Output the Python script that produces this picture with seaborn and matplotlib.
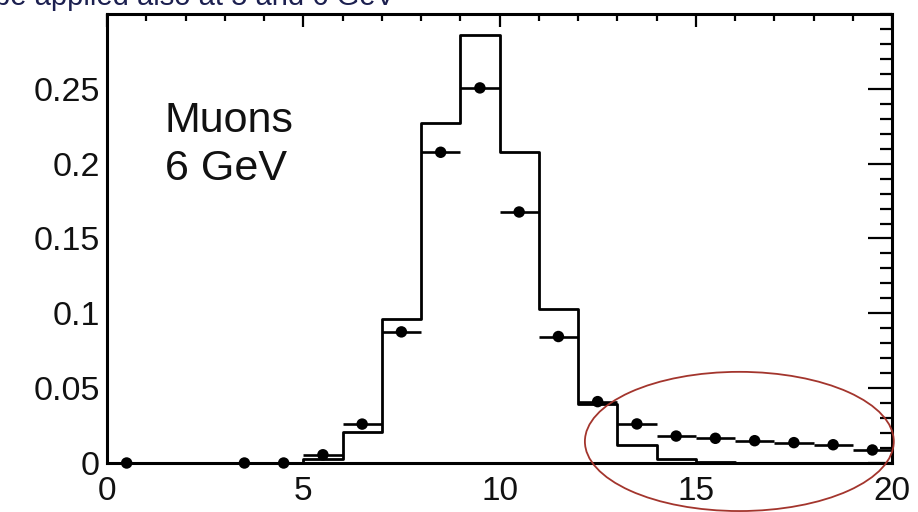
import matplotlib
matplotlib.use("Agg")
import matplotlib.pyplot as plt
from matplotlib.patches import Ellipse
from matplotlib.ticker import FixedLocator, FuncFormatter
import numpy as np
import seaborn as sns

# Reconstructed energy histogram (simulation) and measured points
bin_edges = list(range(0, 21))
sim_heights = [0, 0, 0, 0, 0, 0.003, 0.021, 0.096, 0.227, 0.286,
               0.2076, 0.1028, 0.0395, 0.012, 0.0025, 0.0009, 0, 0, 0, 0]
data_x = [0.5, 3.5, 4.5, 5.5, 6.5, 7.5, 8.5, 9.5, 10.5, 11.5, 12.5,
          13.5, 14.5, 15.5, 16.5, 17.5, 18.5, 19.5]
data_y = [0, 0, 0, 0.0055, 0.026, 0.0876, 0.2076, 0.2506, 0.1677, 0.0845,
          0.041, 0.0261, 0.018, 0.0165, 0.0149, 0.0136, 0.0122, 0.0087]
x_major = [0, 5, 10, 15, 20]
y_major = [0, 0.05, 0.1, 0.15, 0.2, 0.25]
label_lines = ["Muons", "6 GeV"]
header = "be applied also at 5 and 6 GeV"

sns.set_theme(style="white")
plt.rcParams["font.family"] = ["Liberation Sans", "DejaVu Sans"]

fig = plt.figure(figsize=(9.18, 5.12), dpi=100)
ax = fig.add_axes([0.1166, 0.0957, 0.8551, 0.8779])

bin_centers = [(a + b) / 2 for a, b in zip(bin_edges[:-1], bin_edges[1:])]
sns.histplot(x=bin_centers, weights=sim_heights, bins=bin_edges,
             element="step", fill=False, color="black", linewidth=2.0, ax=ax)

bin_half = [0.5] * len(data_x)
ax.errorbar(data_x, data_y, xerr=bin_half, fmt="none", ecolor="black",
            elinewidth=1.9, capsize=0, zorder=3, clip_on=False)
sns.scatterplot(x=data_x, y=data_y, color="black", s=68, edgecolor="none",
                zorder=4, ax=ax)
ax.collections[-1].set_clip_on(False)

ax.set_xlim(0, 20)
ax.set_ylim(0, 1.05 * max(sim_heights))
ax.set_xlabel("")
ax.set_ylabel("")

# Axis ticks on all four sides, pointing inward
ax.xaxis.set_major_locator(FixedLocator(x_major))
ax.xaxis.set_minor_locator(FixedLocator(np.arange(0, 21, 1)))
ax.yaxis.set_major_locator(FixedLocator(y_major))
ax.yaxis.set_minor_locator(FixedLocator(np.arange(0, 0.301, 0.01)))
ax.yaxis.set_major_formatter(FuncFormatter(lambda v, p: f"{v:g}"))
ax.xaxis.set_major_formatter(FuncFormatter(lambda v, p: f"{v:g}"))

ax.tick_params(which="both", direction="in", top=True, right=True,
               color="black", width=1.6)
ax.tick_params(axis="x", which="major", length=9.5, pad=9, labelsize=24)
ax.tick_params(axis="x", which="minor", length=5)
ax.tick_params(axis="y", which="major", length=17, pad=5, labelsize=24.5)
ax.tick_params(axis="y", which="minor", length=8.5)
for lab in ax.get_xticklabels() + ax.get_yticklabels():
    lab.set_color("#111111")

for spine in ax.spines.values():
    spine.set_visible(True)
    spine.set_color("black")
    spine.set_linewidth(2.2)

# Annotation text
fig.text(0.1797, 0.742, label_lines[0], fontsize=31, color="#111111",
         va="baseline", ha="left")
fig.text(0.1797, 0.648, label_lines[1], fontsize=31, color="#111111",
         va="baseline", ha="left")

# Partially visible heading line
fig.text(-0.007, 0.990, header, fontsize=21, color="#1c2050",
         va="baseline", ha="left")

# Highlight the high-energy tail
tail = Ellipse((16.11, 0.0144), width=7.87, height=0.093, fill=False,
               edgecolor="#a3352d", linewidth=1.3, clip_on=False, zorder=5)
ax.add_patch(tail)

fig.savefig("out.png", dpi=100)
